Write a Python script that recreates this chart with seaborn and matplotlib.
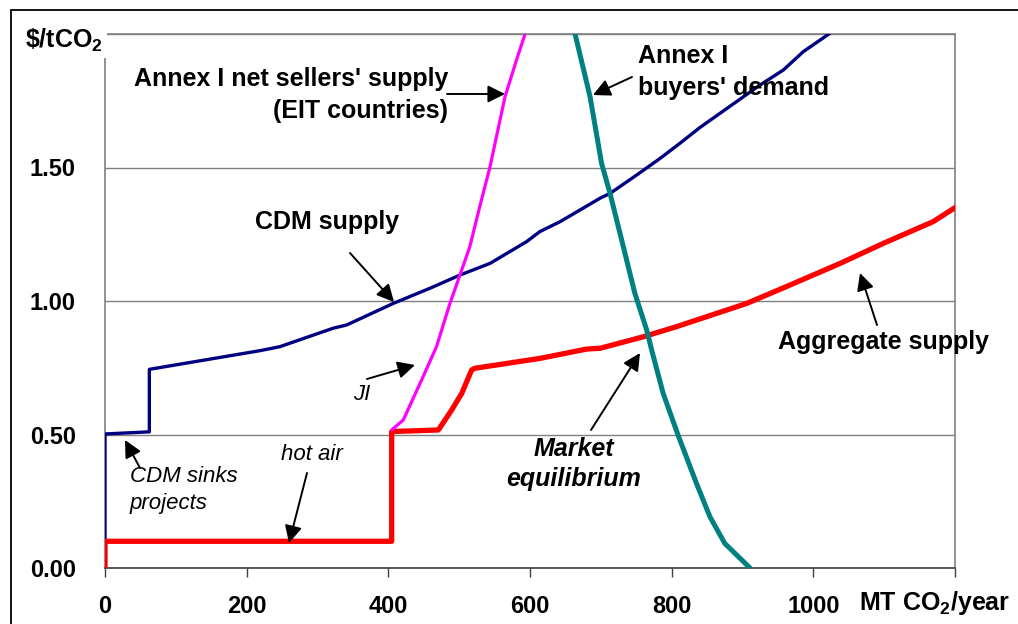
import matplotlib
matplotlib.use("Agg")
import matplotlib.pyplot as plt
import seaborn as sns
import pandas as pd
from matplotlib.patches import Rectangle

# ---------------- data ----------------
cdm_x = [0, 0, 62.6, 62.6, 218.8, 247, 322, 341, 407, 459, 501, 543.6, 595, 614, 642.4,
         698.9, 713, 750.7, 783.6, 811.8, 840, 924.8, 957.6, 985.9, 1023.6]
cdm_y = [0.0, 0.502, 0.51, 0.744, 0.814, 0.829, 0.898, 0.910, 0.991, 1.048, 1.097, 1.141, 1.222, 1.26, 1.297,
         1.385, 1.403, 1.472, 1.534, 1.591, 1.65, 1.809, 1.865, 1.934, 2.003]

agg_x = [0, 0, 404.7, 404.7, 470.6, 489.5, 503.6, 517.7, 522, 614, 680, 699, 760, 807,
         906, 962, 1038, 1099, 1169, 1202]
agg_y = [0.0, 0.1, 0.1, 0.511, 0.517, 0.592, 0.654, 0.742, 0.748, 0.785, 0.82, 0.823, 0.866, 0.904,
         0.991, 1.054, 1.141, 1.216, 1.297, 1.353]

ji_x = [404.7, 421, 449, 468, 487, 503.6, 515, 529, 543.6, 564.7, 581, 593]
ji_y = [0.517, 0.554, 0.716, 0.829, 0.991, 1.116, 1.203, 1.353, 1.503, 1.765, 1.903, 2.0]

dem_x = [663.6, 684.8, 701, 713, 731.8, 748, 764.8, 771.8, 788, 809, 835, 854, 875, 910.6]
dem_y = [2.0, 1.765, 1.516, 1.403, 1.203, 1.029, 0.891, 0.816, 0.654, 0.498, 0.317, 0.192, 0.092, 0.0]

x_ticks = [0, 200, 400, 600, 800, 1000, 1200]
x_ticklabels = ["0", "200", "400", "600", "800", "1000", ""]
y_ticks = [0.0, 0.5, 1.0, 1.5]
y_ticklabels = ["0.00", "0.50", "1.00", "1.50"]

# ---------------- style ----------------
sns.set_theme(style="white")
plt.rcParams["font.family"] = ["Liberation Sans", "DejaVu Sans"]
plt.rcParams["mathtext.default"] = "regular"
plt.rcParams["text.color"] = "black"

W, H = 1018, 624
fig = plt.figure(figsize=(W / 100, H / 100), dpi=100)
fig.patch.set_facecolor("white")
ax = fig.add_axes([105 / W, (624 - 568) / H, (955 - 105) / W, (568 - 34) / H])

def px2data(px, py):
    return ((px - 105) / (850 / 1200), (568 - py) / 267.0)

series = [
    (cdm_x, cdm_y, "#000080", 2.4),
    (agg_x, agg_y, "#FF0000", 3.8),
    (ji_x, ji_y, "#FF00FF", 2.3),
    (dem_x, dem_y, "#008080", 3.6),
]
for i, (xs, ys, c, lw) in enumerate(series):
    df = pd.DataFrame({"x": xs, "y": ys})
    sns.lineplot(data=df, x="x", y="y", sort=False, estimator=None, color=c,
                 lw=lw, ax=ax, zorder=3 + i)

ax.set_xlim(0, 1200)
ax.set_ylim(0, 2.0)
ax.set_xticks(x_ticks)
ax.set_xticklabels(x_ticklabels, fontsize=17, fontweight="bold", color="black")
ax.set_yticks(y_ticks + [2.0])
ax.set_yticklabels(y_ticklabels + [""], fontsize=17, fontweight="bold", color="black")
ax.set_xlabel("")
ax.set_ylabel("")
ax.tick_params(axis="x", direction="out", length=6.5, width=1, color="#404040", pad=13,
               bottom=True, labelcolor="black")
ax.tick_params(axis="y", length=0, pad=21, labelcolor="black")
ax.grid(axis="y", color="#808080", lw=1.0)
ax.set_axisbelow(True)
for s in ["left", "right", "top"]:
    ax.spines[s].set_color("#808080")
    ax.spines[s].set_linewidth(1.2)
ax.spines["bottom"].set_color("#404040")
ax.spines["bottom"].set_linewidth(1.2)

# figure frame (left & top visible)
fig.add_artist(Rectangle((11 / W, -0.5), 2.0, 1.5 - 10 / H, transform=fig.transFigure,
                         fill=False, edgecolor="black", lw=1.3))

bold = dict(fontsize=18, fontweight="bold", color="black")
ital = dict(fontsize=16, fontstyle="italic", color="black")

def txt(px, py, s, ha="center", ma=None, ls=1.42, **kw):
    x, y = px2data(px, py)
    ax.text(x, y, s, ha=ha, va="center", multialignment=ma or ha, clip_on=False,
            linespacing=ls, zorder=10, **kw)

def arrow(p0, p1):
    ax.annotate("", xy=px2data(*p1), xytext=px2data(*p0),
                arrowprops=dict(arrowstyle="-|>", color="black", lw=1.4,
                                mutation_scale=26, shrinkA=0, shrinkB=0),
                zorder=10, annotation_clip=False)

txt(448, 95, "Annex I net sellers' supply\n(EIT countries)", ha="right", **bold)
arrow((447, 94), (505, 94))
txt(638, 72, "Annex I\nbuyers' demand", ha="left", **bold)
arrow((632, 77), (593, 95))
txt(327, 222, "CDM supply", **bold)
arrow((350, 253), (394, 302))
txt(362, 395, "JI", **ital)
arrow((367, 379), (415, 365))
txt(884, 342, "Aggregate supply", **bold)
arrow((877, 325), (860, 273))
txt(574, 464, "Market\nequilibrium", ls=1.3, fontsize=18, fontweight="bold",
    fontstyle="italic", color="black")
arrow((591, 430), (640, 353))
txt(312, 455, "hot air", **ital)
arrow((307, 473), (289, 543))
txt(130, 490, "CDM sinks\nprojects", ha="left", ls=1.4, **ital)
arrow((140, 468), (125, 440))

txt(64, 40, r"\$/tCO$_2$", **bold,
    bbox=dict(facecolor="white", edgecolor="none", pad=3))
txt(935, 603, "MT CO$_2$/year", **bold)

fig.savefig("out.png", dpi=100, facecolor="white")
